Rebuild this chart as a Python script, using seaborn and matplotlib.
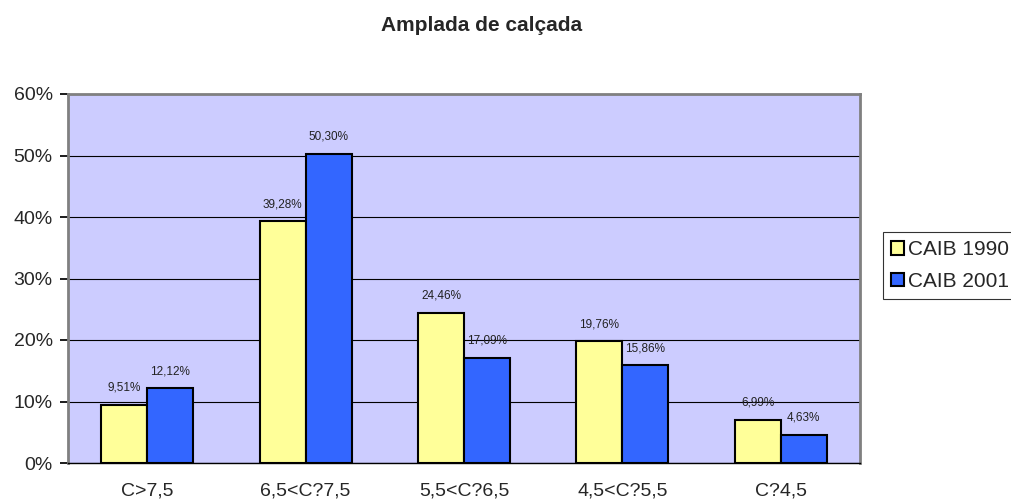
import matplotlib
matplotlib.use("Agg")
import matplotlib.pyplot as plt
import seaborn as sns
import pandas as pd
import numpy as np
from matplotlib.patches import Patch

categories = ["C>7,5", "6,5<C?7,5", "5,5<C?6,5", "4,5<C?5,5", "C?4,5"]
series_names = ["CAIB 1990", "CAIB 2001"]
caib_1990 = [9.51, 39.28, 24.46, 19.76, 6.99]
caib_2001 = [12.12, 50.30, 17.09, 15.86, 4.63]
y_ticks = [0, 10, 20, 30, 40, 50, 60]

df = pd.DataFrame({
    "cat": categories * 2,
    "serie": [series_names[0]] * 5 + [series_names[1]] * 5,
    "val": caib_1990 + caib_2001,
})

sns.set_theme(style="white")
plt.rcParams["font.family"] = ["Liberation Sans", "DejaVu Sans"]

colors = ["#FFFF99", "#3366FF"]
fig = plt.figure(figsize=(10.11, 5.04), dpi=100)
ax = fig.add_axes([68 / 1011, 1 - 463 / 504, (860 - 68) / 1011, (463 - 94) / 504])
ax.set_facecolor("#CCCCFF")

sns.barplot(data=df, x="cat", y="val", hue="serie", palette=colors, ax=ax,
            width=0.58, edgecolor="black", linewidth=1.5, legend=False,
            saturation=1)

for cont in ax.containers:
    labels = [f"{v:.2f}".replace(".", ",") + "%" for v in cont.datavalues]
    ax.bar_label(cont, labels=labels, padding=8, fontsize=8.5, color="#222222")

ax.set_ylim(0, 60)
ax.set_xlim(-0.5, 4.5)
ax.set_yticks(y_ticks)
ax.set_yticklabels([f"{t}%" for t in y_ticks], fontsize=14)
ax.yaxis.grid(True, color="black", linewidth=0.8)
ax.set_axisbelow(True)
ax.set_xticks(range(5))
ax.set_xticklabels(categories, fontsize=14)
ax.set_xticks(np.arange(0.5, 4.5, 1), minor=True)
ax.tick_params(axis="x", which="major", length=0, pad=14)
ax.tick_params(axis="x", which="minor", length=5, direction="in", color="black")
ax.tick_params(axis="y", which="major", length=6, direction="out", color="black", left=True, pad=5)
ax.set_xlabel("")
ax.set_ylabel("")
for side in ["top", "right", "left"]:
    ax.spines[side].set_color("#808080")
    ax.spines[side].set_linewidth(2)
ax.spines["bottom"].set_color("black")
ax.spines["bottom"].set_linewidth(1)

fig.text(482 / 1011, 1 - 31 / 504, "Amplada de calçada", ha="center", va="baseline",
         fontsize=15, fontweight="bold")

handles = [Patch(facecolor=c, edgecolor="black", linewidth=1.5) for c in colors]
leg = fig.legend(handles, series_names, loc="upper left",
                 bbox_to_anchor=(883 / 1011, 1 - 232 / 504), fontsize=15,
                 frameon=True, fancybox=False, borderpad=0.4, handlelength=0.6,
                 handleheight=0.6, handletextpad=0.2, labelspacing=0.6,
                 borderaxespad=0)
leg.get_frame().set_edgecolor("black")
leg.get_frame().set_linewidth(0.8)

fig.savefig("out.png", dpi=100, facecolor="white")
